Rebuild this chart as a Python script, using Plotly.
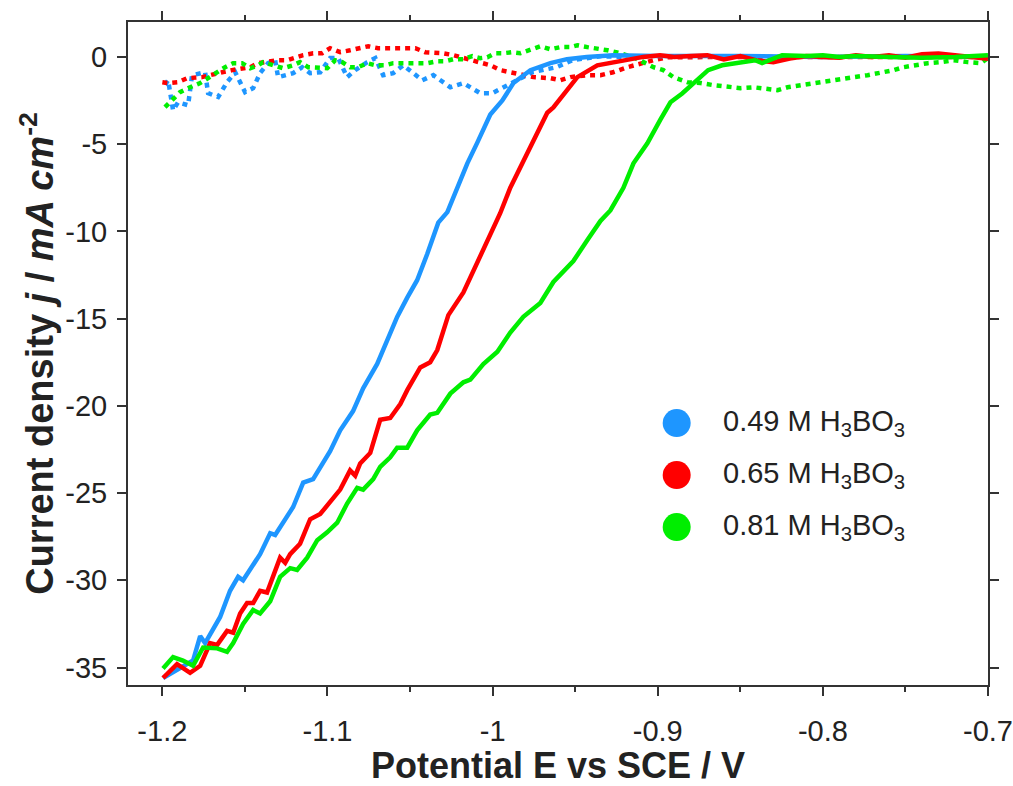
import plotly.graph_objects as go

# ---------------- data ----------------
blue_solid_E = [-1.1996, -1.1910, -1.1814, -1.1771, -1.1741, -1.1650, -1.1590, -1.1541, -1.1511, -1.1408,
                -1.1347, -1.1317, -1.1208, -1.1147, -1.1087, -1.0984, -1.0923, -1.0845, -1.0784, -1.0699,
                -1.0663, -1.0578, -1.0517, -1.0457, -1.0396, -1.0329, -1.0274, -1.0214, -1.0153, -1.0092,
                -1.0014, -0.9941, -0.9874, -0.9771, -0.9650, -0.9550, -0.9430, -0.9270, -0.9000, -0.8500,
                -0.8000, -0.7500, -0.7000]
blue_solid_j = [-35.6, -35.1, -34.6, -33.2, -33.6, -32.1, -30.6, -29.8, -30.0, -28.5,
                -27.3, -27.4, -25.8, -24.4, -24.2, -22.6, -21.4, -20.3, -19.0, -17.6,
                -16.8, -14.9, -13.8, -12.8, -11.3, -9.5, -8.9, -7.5, -6.1, -4.9,
                -3.3, -2.5, -1.5, -0.76, -0.36, -0.13, 0.0, 0.1, 0.05, 0.05,
                0.0, 0.05, 0.0]

red_solid_E = [-1.1996, -1.1911, -1.1832, -1.1771, -1.1711, -1.1668, -1.1608, -1.1571, -1.1529, -1.1487,
               -1.1450, -1.1408, -1.1366, -1.1287, -1.1256, -1.1226, -1.1166, -1.1105, -1.1044, -1.0984,
               -1.0923, -1.0863, -1.0832, -1.0802, -1.0741, -1.0681, -1.0620, -1.0559, -1.0517, -1.0438,
               -1.0378, -1.0335, -1.0317, -1.0268, -1.0177, -1.0093, -1.0032, -0.9954, -0.9893, -0.9845,
               -0.9772, -0.9669, -0.9632, -0.9590, -0.9487, -0.9366, -0.9270, -0.9184, -0.9087, -0.8986,
               -0.8900, -0.8800, -0.8700, -0.8600, -0.8500, -0.8400, -0.8300, -0.8200, -0.8100, -0.8000,
               -0.7900, -0.7800, -0.7700, -0.7600, -0.7500, -0.7400, -0.7300, -0.7200, -0.7100, -0.7000]
red_solid_j = [-35.6, -34.8, -35.3, -34.9, -33.6, -33.7, -32.9, -33.0, -31.9, -31.3,
               -31.3, -30.6, -30.7, -28.7, -29.0, -28.5, -27.9, -26.5, -26.2, -25.5,
               -24.8, -23.7, -24.0, -23.3, -22.7, -20.8, -20.7, -19.9, -19.1, -17.8,
               -17.5, -16.8, -16.2, -14.8, -13.5, -11.8, -10.5, -8.96, -7.5, -6.6,
               -5.2, -3.2, -2.9, -2.4, -1.16, -0.48, -0.3, -0.19, 0.0, 0.1,
               0.0, 0.05, 0.1, -0.15, 0.05, -0.2, -0.3, -0.1, 0.05, 0.0,
               -0.05, 0.1, 0.0, 0.1, -0.05, 0.15, 0.2, 0.1, 0.0, -0.1]

green_solid_E = [-1.1996, -1.1935, -1.1875, -1.1814, -1.1753, -1.1668, -1.1608, -1.1571, -1.1511, -1.1450,
                 -1.1408, -1.1347, -1.1287, -1.1226, -1.1184, -1.1123, -1.1062, -1.1002, -1.0941, -1.0881,
                 -1.0820, -1.0784, -1.0723, -1.0681, -1.0620, -1.0578, -1.0517, -1.0457, -1.0378, -1.0335,
                 -1.0256, -1.0177, -1.0135, -1.0056, -0.9971, -0.9893, -0.9814, -0.9711, -0.9632, -0.9511,
                 -0.9426, -0.9347, -0.9287, -0.9208, -0.9147, -0.9063, -0.8984, -0.8923, -0.8852, -0.8774,
                 -0.8695, -0.8610, -0.8489, -0.8410, -0.8368, -0.8247, -0.8100, -0.8000, -0.7900, -0.7800,
                 -0.7600, -0.7400, -0.7200, -0.7000]
green_solid_j = [-35.05, -34.4, -34.6, -34.9, -33.85, -33.9, -34.1, -33.6, -32.5, -31.7,
                 -31.9, -31.2, -29.8, -29.3, -29.4, -28.7, -27.7, -27.25, -26.7, -25.6,
                 -24.7, -24.8, -24.2, -23.5, -22.95, -22.4, -22.4, -21.4, -20.5, -20.4,
                 -19.3, -18.65, -18.5, -17.6, -16.9, -15.8, -14.9, -14.1, -12.9, -11.7,
                 -10.5, -9.4, -8.8, -7.5, -6.1, -4.95, -3.6, -2.6, -2.1, -1.45,
                 -0.76, -0.48, -0.3, -0.19, -0.36, 0.1, 0.05, 0.1, 0.0, 0.05,
                 0.0, -0.05, 0.0, 0.1]

blue_dot_E = [-1.1984, -1.1965, -1.1935, -1.1905, -1.1844, -1.1820, -1.1741, -1.1723, -1.1662, -1.1608,
              -1.1559, -1.1499, -1.1450, -1.1408, -1.1360, -1.1317, -1.1299, -1.1208, -1.1153, -1.1105,
              -1.1044, -1.0984, -1.0935, -1.0881, -1.0832, -1.0759, -1.0710, -1.0663, -1.0602, -1.0541,
              -1.0480, -1.0426, -1.0359, -1.0256, -1.0177, -1.0075, -1.0002, -0.9935, -0.9856, -0.9760,
              -0.9613, -0.9515, -0.9350, -0.9200]
blue_dot_j = [-1.6, -1.34, -3.06, -2.6, -2.77, -1.05, -0.88, -2.08, -2.3, -1.45,
              -0.88, -2.02, -1.79, -0.93, -0.36, -0.19, -1.16, -0.93, -0.59, -0.93,
              -0.88, -0.07, -0.07, -1.16, -0.76, -0.3, -0.07, -1.05, -0.93, -0.48,
              -0.93, -1.34, -1.05, -1.74, -1.5, -2.08, -2.08, -1.74, -1.34, -0.88,
              -0.59, -0.19, 0.04, 0.0]

red_dot_E = [-1.2000, -1.1965, -1.1905, -1.1850, -1.1760, -1.1699, -1.1638, -1.1578, -1.1517, -1.1468,
             -1.1420, -1.1366, -1.1305, -1.1244, -1.1196, -1.1147, -1.1087, -1.1032, -1.0984, -1.0923,
             -1.0863, -1.0814, -1.0753, -1.0693, -1.0632, -1.0578, -1.0517, -1.0468, -1.0408, -1.0347,
             -1.0299, -1.0238, -1.0075, -1.0014, -0.9953, -0.9874, -0.9753, -0.9650, -0.9590, -0.9529,
             -0.9426, -0.9347, -0.9270, -0.9184, -0.9105, -0.9026, -0.8941, -0.8700, -0.8300, -0.7800,
             -0.7400, -0.7000]
red_dot_j = [-1.45, -1.5, -1.45, -1.22, -1.16, -1.05, -0.88, -0.76, -0.7, -0.59,
             -0.36, -0.3, -0.19, -0.19, -0.02, 0.1, 0.21, 0.21, 0.5, 0.27,
             0.38, 0.5, 0.61, 0.5, 0.5, 0.56, 0.5, 0.5, 0.27, 0.27,
             0.21, 0.1, -0.36, -0.48, -0.76, -0.93, -1.16, -1.22, -1.34, -1.16,
             -1.05, -1.05, -0.88, -0.59, -0.36, -0.19, -0.02, 0.0, 0.0, 0.0,
             0.0, 0.0]

green_dot_E = [-1.1984, -1.1941, -1.1893, -1.1832, -1.1771, -1.1723, -1.1668, -1.1620, -1.1571, -1.1517,
               -1.1468, -1.1420, -1.1390, -1.1317, -1.1268, -1.1208, -1.1166, -1.1117, -1.1057, -1.1002,
               -1.0953, -1.0911, -1.0863, -1.0814, -1.0759, -1.0710, -1.0650, -1.0602, -1.0541, -1.0498,
               -1.0456, -1.0396, -1.0335, -1.0287, -1.0238, -1.0177, -1.0123, -1.0075, -1.0032, -0.9984,
               -0.9935, -0.9881, -0.9832, -0.9771, -0.9711, -0.9650, -0.9590, -0.9529, -0.9487, -0.9426,
               -0.9366, -0.9305, -0.9226, -0.9147, -0.9087, -0.9026, -0.8966, -0.8905, -0.8820, -0.8741,
               -0.8662, -0.8577, -0.8498, -0.8420, -0.8335, -0.8274, -0.8214, -0.8135, -0.8056, -0.7971,
               -0.7893, -0.7814, -0.7729, -0.7650, -0.7572, -0.7511, -0.7450, -0.7365, -0.7287, -0.7208,
               -0.7123, -0.7044, -0.7002]
green_dot_j = [-2.88, -2.48, -2.02, -1.74, -1.5, -1.22, -0.88, -0.59, -0.36, -0.36,
               -0.65, -0.48, -0.3, -0.48, -0.65, -0.48, -0.3, -0.59, -0.65, -0.65,
               -0.19, -0.3, -0.59, -0.59, -0.36, -0.48, -0.48, -0.36, -0.36, -0.36,
               -0.36, -0.36, -0.25, -0.25, -0.13, -0.13, 0.04, -0.07, -0.02, 0.21,
               0.21, 0.27, 0.21, 0.38, 0.61, 0.44, 0.56, 0.56, 0.67, 0.56,
               0.5, 0.38, 0.21, -0.02, -0.3, -0.59, -0.76, -1.16, -1.45, -1.5,
               -1.62, -1.74, -1.79, -1.74, -1.85, -1.91, -1.74, -1.62, -1.5, -1.39,
               -1.22, -1.16, -1.05, -0.93, -0.76, -0.59, -0.48, -0.36, -0.3, -0.19,
               -0.3, -0.36, -0.07]

series_labels = ["0.49 M H<sub>3</sub>BO<sub>3</sub>",
                 "0.65 M H<sub>3</sub>BO<sub>3</sub>",
                 "0.81 M H<sub>3</sub>BO<sub>3</sub>"]
series_colors = ["#1E96FF", "#FF0000", "#00EE00"]

x_tickvals = [-1.2, -1.1, -1.0, -0.9, -0.8, -0.7]
x_ticktext = ["-1.2", "-1.1", "-1", "-0.9", "-0.8", "-0.7"]
y_tickvals = [0, -5, -10, -15, -20, -25, -30, -35]
y_ticktext = ["0", "-5", "-10", "-15", "-20", "-25", "-30", "-35"]

# ---------------- figure ----------------
FONT = "Liberation Sans, Arial, sans-serif"
AXC = "#333333"
TXT = "#222222"

fig = go.Figure()

dotted = [(blue_dot_E, blue_dot_j), (red_dot_E, red_dot_j), (green_dot_E, green_dot_j)]
solid = [(blue_solid_E, blue_solid_j), (red_solid_E, red_solid_j), (green_solid_E, green_solid_j)]

for (xs, ys), c in zip(dotted, series_colors):
    fig.add_trace(go.Scatter(x=xs, y=ys, mode="lines", showlegend=False, hoverinfo="skip",
                             line=dict(color=c, width=4.5, dash="5px,5px")))
for (xs, ys), c in zip(solid, series_colors):
    fig.add_trace(go.Scatter(x=xs, y=ys, mode="lines", showlegend=False, hoverinfo="skip",
                             line=dict(color=c, width=4.5)))

# manual legend (circle swatches + labels) in paper coordinates
leg_x = 0.638
leg_y = [0.395, 0.3166, 0.2382]
for lbl, c, yy in zip(series_labels, series_colors, leg_y):
    fig.add_shape(type="circle", xref="paper", yref="paper", xsizemode="pixel", ysizemode="pixel",
                  xanchor=leg_x, yanchor=yy, x0=-14, x1=14, y0=-14, y1=14,
                  fillcolor=c, line=dict(width=0))
    fig.add_annotation(xref="paper", yref="paper", x=0.690, y=yy, xanchor="left", yanchor="middle",
                       text=lbl, showarrow=False, yshift=0,
                       font=dict(family=FONT, size=29, color=TXT))

axis_common = dict(showline=True, linewidth=2, linecolor=AXC, mirror="ticks", ticks="outside",
                   ticklen=9, tickwidth=2, tickcolor=AXC, showgrid=False, zeroline=False,
                   automargin=False,
                   tickfont=dict(family=FONT, size=29, color=TXT))

fig.update_layout(
    width=1013, height=786,
    margin=dict(l=128, r=25, t=22, b=101),
    paper_bgcolor="white", plot_bgcolor="white",
    showlegend=False,
    xaxis=dict(range=[-1.2208, -0.7], tickmode="array", tickvals=x_tickvals, ticktext=x_ticktext,
               ticklabelstandoff=10,
               minor=dict(ticks="outside", ticklen=5, tickwidth=2, tickcolor=AXC, dtick=0.05, tick0=-1.2,
                          showgrid=False),
               title=dict(text="<b>Potential E vs SCE / V</b>", standoff=7,
                          font=dict(family=FONT, size=36, color=TXT)),
               **axis_common),
    yaxis=dict(range=[-36, 2], tickmode="array", tickvals=y_tickvals, ticktext=y_ticktext,
               ticklabelstandoff=4,
               title=dict(text="<b>Current density <i>j</i> / <i>mA cm</i><sup>-2</sup></b>", standoff=0,
                          font=dict(family=FONT, size=38, color=TXT)),
               **axis_common),
)

fig.write_html("out.html", config={"displayModeBar": False},
               post_script="document.body.style.margin='0px';")
